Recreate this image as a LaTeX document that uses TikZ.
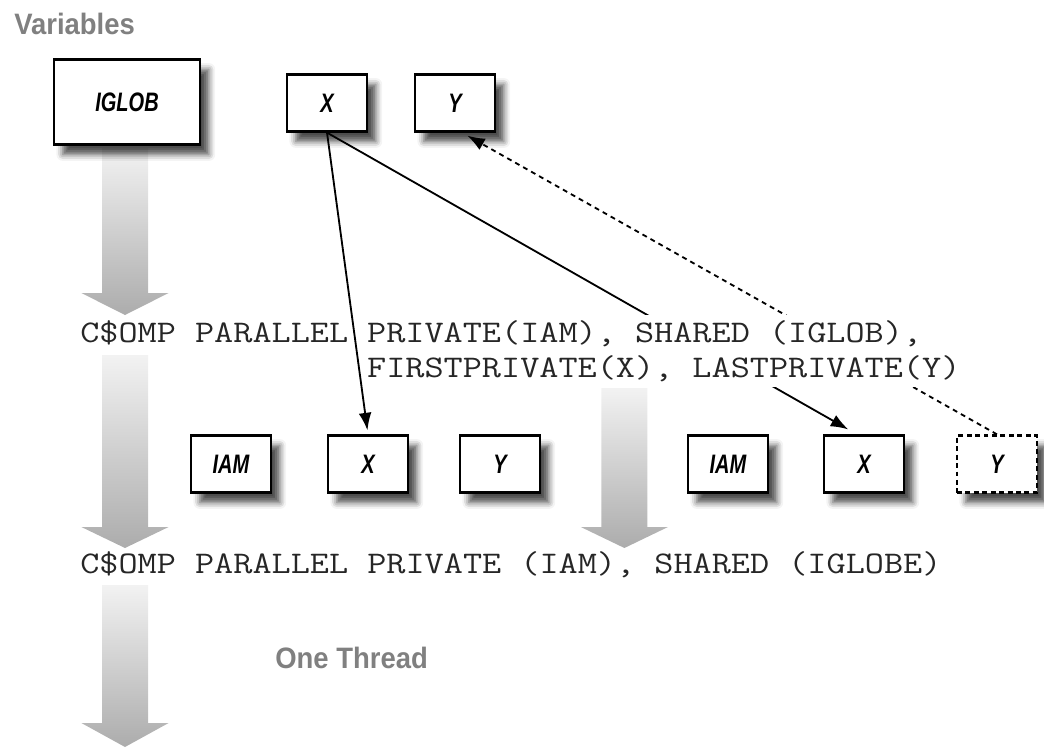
\documentclass[tikz,border=0pt]{standalone}
\usepackage{fontspec}
\setmonofont[FakeStretch=1.18]{Latin Modern Mono}
\newfontfamily\boxfont[FakeStretch=0.75]{Liberation Sans}
\newfontfamily\headfont[FakeStretch=0.93]{Liberation Sans}
\usetikzlibrary{arrows.meta,backgrounds,shadows,shadows.blur}
\tikzset{
  var/.style={draw=black, line width=1.6pt, fill=white, minimum width=2cm,
    minimum height=1.425cm, inner sep=2pt,
    font=\boxfont\bfseries\itshape\fontsize{19}{19}\selectfont,
    blur shadow={shadow xshift=0.22cm, shadow yshift=-0.25cm,
      shadow blur radius=0.16cm, shadow opacity=70}},
  globvar/.style={var, minimum width=3.65cm, minimum height=2.125cm},
  ghostvar/.style={var, dashed, dash pattern=on 3.5pt off 2.5pt},
  code/.style={font=\ttfamily\fontsize{22.4}{24.9}\selectfont, text=black!85,
    inner sep=0pt, anchor=base west},
  maskcode/.style={code, fill=white, inner ysep=4pt},
  head/.style={font=\headfont\bfseries\fontsize{21}{21}\selectfont,
    text=black!50, inner sep=0pt, anchor=base west},
  flow/.style={top color=gray!10, bottom color=gray!65},
  arr/.style={-{Latex[length=4.4mm,width=3.2mm]}, line width=1.3pt},
  darr/.style={arr, dashed, dash pattern=on 3.5pt off 3pt}
}

\begin{document}
\begin{tikzpicture}
  \useasboundingbox (0,0) rectangle (26.1,-18.675);
  \def\yRow{-11.6}

  % shaded flow arrows (x / top / head base / tip)
  \foreach \x/\ya/\yb/\yc in {3.125/3.7/7.325/7.875, 3.125/8.875/13.175/13.7,
      3.125/14.625/18.075/18.675, 15.61/9.7/13.175/13.7}{
    \shade[flow] (\x-0.575,-\ya) -- (\x+0.575,-\ya) -- (\x+0.575,-\yb)
      -- (\x+1.09,-\yb) -- (\x,-\yc) -- (\x-1.09,-\yb) -- (\x-0.575,-\yb) -- cycle;
  }

  \node[head] (vars) at (0.35,-0.875) {Variables};
  \node[globvar] (iglob) at (3.175,-2.55) {IGLOB};
  \node[var] (x) at (8.175,-2.575) {X};
  \node[var] (y) at (11.375,-2.575) {Y};

  \node[code] (omp1) at (2,-8.55) {C\$OMP PARALLEL};
  \node[maskcode] (clause1) at ([xshift=0.46cm]omp1.base east) {PRIVATE(IAM), SHARED (IGLOB),};
  \node[maskcode] (clause2) at ([yshift=-0.875cm]clause1.base west) {FIRSTPRIVATE(X), LASTPRIVATE(Y)};

  \node[var] (iam1) at (5.775,\yRow) {IAM};
  \node[var] (x1) at (9.2,\yRow) {X};
  \node[var] (y1) at (12.5,\yRow) {Y};
  \node[var] (iam2) at (18.2,\yRow) {IAM};
  \node[var] (x2) at (21.6,\yRow) {X};
  \node[ghostvar] (y2) at (24.925,\yRow) {Y};

  \node[code] (omp2) at (2,-14.325) {C\$OMP PARALLEL PRIVATE (IAM), SHARED (IGLOBE)};
  \node[head] (one) at (6.875,-16.7) {One Thread};

  \begin{scope}[on background layer]
    \draw[arr, shorten >=0.1cm] (x.south) -- (x1.north);
    \draw[arr, shorten >=0.25cm] (x.south) -- ([xshift=-0.175cm]x2.north);
    \draw[darr, shorten >=0.15cm] (y2.north) -- ([xshift=0.175cm]y.south);
  \end{scope}
\end{tikzpicture}
\end{document}
